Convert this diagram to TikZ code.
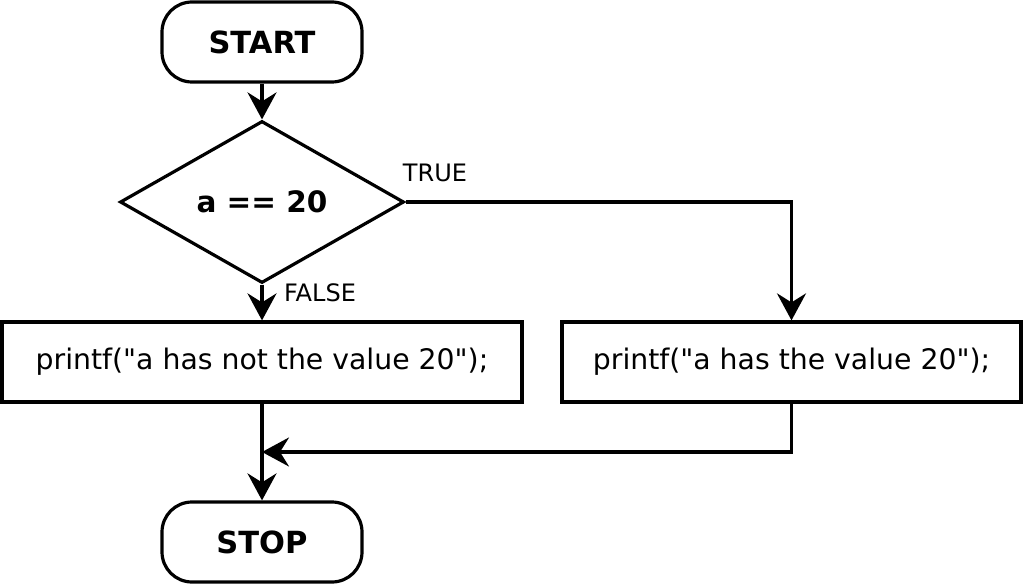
\documentclass[tikz,border=0pt]{standalone}
\usepackage{fontspec}
\setmainfont{DejaVu Sans}[Ligatures=TeXOff]
\usetikzlibrary{shapes.geometric,arrows.meta}
\begin{document}
\begin{tikzpicture}[x=1pt,y=-1pt,
  every node/.style={line width=3.2pt},
  term/.style={draw,rounded corners=30pt,minimum width=200pt,minimum height=80pt,inner sep=0pt,font=\fontsize{30.5}{34}\selectfont\bfseries},
  dec/.style={draw,shape=diamond,minimum width=284pt,minimum height=162pt,inner sep=0pt,font=\fontsize{29.5}{33}\selectfont\bfseries},
  proc/.style={draw,minimum height=80pt,inner sep=0pt,font=\fontsize{28.3}{32}\selectfont},
  lbl/.style={font=\fontsize{24}{28}\selectfont,inner sep=0pt},
  conn/.style={line width=3.2pt,-{Stealth[length=27pt,width=29pt,inset=9pt]}}]
\useasboundingbox (0,0) rectangle (1024,585);
\node[term] (start) at (262,42) {START};
\node[dec] (cond) at (262,202) {a == 20};
\node[proc,minimum width=520pt] (no) at (262,362) {printf("a has not the value 20");};
\node[proc,minimum width=459pt] (yes) at (791.5,362) {printf("a has the value 20");};
\node[term] (stop) at (262,542) {STOP};
\node[lbl] (tl) at (435,173) {TRUE};
\node[lbl] (fl) at (320,293) {FALSE};
\coordinate (j) at (262,452);
\draw[conn] (start.south) -- (cond.north);
\draw[conn] (cond.south) -- (no.north);
\draw[conn] (cond.east) -| (yes.north);
\draw[conn] (yes.south) |- (j);
\draw[conn] (no.south) -- (stop.north);
\end{tikzpicture}
\end{document}
